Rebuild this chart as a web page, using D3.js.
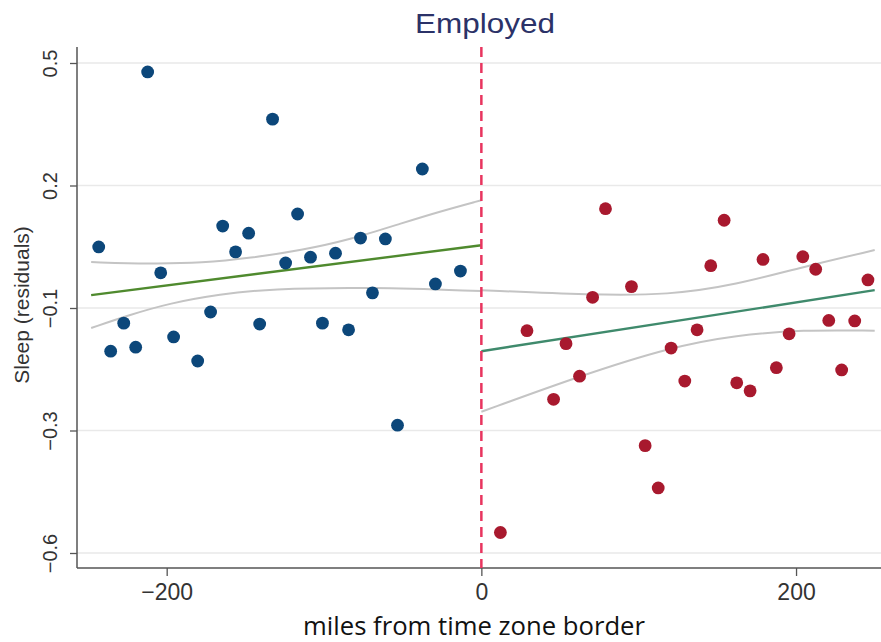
<!DOCTYPE html>
<html>
<head>
<meta charset="utf-8">
<script src="https://d3js.org/d3.v7.min.js"></script>
<style>
  html, body { margin: 0; padding: 0; background: #fff; }
  svg { display: block; }
</style>
</head>
<body>
<div id="chart"></div>
<script>
// values
var leftX = [-243.2, -235.6, -227.3, -219.7, -212.1, -203.8, -195.6, -180.3, -172.1, -164.4, -156.2, -147.9, -140.9, -132.7,
             -124.4, -116.8, -108.6, -101.0, -92.7, -84.4, -76.8, -69.2, -61.0, -53.3, -37.5, -29.2, -13.3];
var leftY = [0.087, -0.147, -0.084, -0.138, 0.480, 0.029, -0.115, -0.169, -0.059, 0.134, 0.076, 0.118, -0.086, 0.374,
             0.051, 0.161, 0.064, -0.084, 0.073, -0.099, 0.107, -0.016, 0.105, -0.313, 0.262, 0.004, 0.033];
var rightX = [12.1, 29.0, 45.9, 53.8, 62.4, 70.7, 78.9, 95.4, 104.1, 112.4, 120.6, 129.3, 137.1, 145.8, 154.3, 162.3,
              170.8, 179.0, 187.5, 195.6, 204.3, 212.5, 220.8, 229.0, 237.3, 245.7];
var rightY = [-0.554, -0.101, -0.255, -0.130, -0.203, -0.026, 0.173, -0.002, -0.359, -0.454, -0.140, -0.214, -0.099, 0.045,
              0.147, -0.218, -0.236, 0.059, -0.184, -0.108, 0.065, 0.037, -0.078, -0.189, -0.079, 0.013];

var leftFit = [[-248, -0.021], [0, 0.091]];
var rightFit = [[0, -0.147], [250, -0.010]];
var leftUpper = [[-248, 0.053], [-211, 0.049], [-177, 0.051], [-147, 0.062], [-114, 0.080], [-84, 0.103], [-50, 0.141], [-27, 0.166], [0, 0.192]];
var leftLower = [[-248, -0.095], [-224, -0.066], [-198, -0.039], [-166, -0.019], [-135, -0.007], [-71, -0.003], [0, -0.012]];
var rightUpper = [[0, -0.010], [70, -0.021], [119, -0.021], [162, 0.002], [204, 0.042], [250, 0.080]];
var rightLower = [[0, -0.283], [62, -0.203], [121, -0.137], [162, -0.111], [204, -0.099], [250, -0.101]];

var yTicks = [0.5, 0.225, -0.05, -0.325, -0.6];
var yTickLabels = ["0.5", "0.2", "\u22120.1", "\u22120.3", "\u22120.6"];
var xTicks = [-200, 0, 200];
var xTickLabels = ["\u2212200", "0", "200"];

var width = 881, height = 642;
var svg = d3.select("#chart").append("svg")
    .attr("width", width)
    .attr("height", height);

var x = d3.scaleLinear().domain([-257, 254]).range([77, 881]);
var y = d3.scaleLinear().domain([-0.6, 0.5]).range([553, 63]);
var plotTop = 47, plotBottom = 568;

// gridlines
svg.append("g").selectAll("line")
    .data(yTicks).enter().append("line")
    .attr("x1", x.range()[0]).attr("x2", x.range()[1])
    .attr("y1", function(d) { return y(d); })
    .attr("y2", function(d) { return y(d); })
    .attr("stroke", "#e9e9e9")
    .attr("stroke-width", 1.6);

// y axis
var yAxis = svg.append("g")
    .attr("transform", "translate(" + x.range()[0] + ",0)")
    .call(d3.axisLeft(y).tickValues(yTicks).tickSize(7).tickFormat(function(d, i) { return yTickLabels[i]; }));
yAxis.select(".domain").remove();
yAxis.selectAll(".tick line").attr("stroke", "#555").attr("stroke-width", 1.3);
yAxis.selectAll(".tick text")
    .attr("x", 0).attr("y", 0).attr("dy", 0)
    .attr("transform", "translate(-20,0) rotate(-90)")
    .attr("text-anchor", "middle")
    .style("font-family", "'Liberation Sans', Arial, sans-serif")
    .style("font-size", "20px")
    .attr("fill", "#333");
svg.append("line")
    .attr("x1", x.range()[0]).attr("x2", x.range()[0])
    .attr("y1", plotTop).attr("y2", plotBottom)
    .attr("stroke", "#555").attr("stroke-width", 1.5);

// x axis
var xAxis = svg.append("g")
    .attr("transform", "translate(0," + plotBottom + ")")
    .call(d3.axisBottom(x).tickValues(xTicks).tickSize(8).tickFormat(function(d, i) { return xTickLabels[i]; }));
xAxis.select(".domain").remove();
xAxis.selectAll(".tick line").attr("stroke", "#555").attr("stroke-width", 1.3);
xAxis.selectAll(".tick text")
    .attr("y", 32).attr("dy", 0)
    .style("font-family", "'Liberation Sans', Arial, sans-serif")
    .style("font-size", "23px")
    .attr("fill", "#333");
svg.append("line")
    .attr("x1", x.range()[0]).attr("x2", width)
    .attr("y1", plotBottom).attr("y2", plotBottom)
    .attr("stroke", "#555").attr("stroke-width", 1.5);

// confidence bands and fits
var line = d3.line()
    .x(function(d) { return x(d[0]); })
    .y(function(d) { return y(d[1]); })
    .curve(d3.curveBasis);

[leftUpper, leftLower, rightUpper, rightLower].forEach(function(band) {
    svg.append("path")
        .attr("d", line(band))
        .attr("fill", "none")
        .attr("stroke", "#c4c4c4")
        .attr("stroke-width", 2);
});
svg.append("path").attr("d", line(leftFit))
    .attr("fill", "none").attr("stroke", "#4f8a2e").attr("stroke-width", 2.4);
svg.append("path").attr("d", line(rightFit))
    .attr("fill", "none").attr("stroke", "#3f8a6c").attr("stroke-width", 2.4);

// border line
svg.append("line")
    .attr("x1", x(0)).attr("x2", x(0))
    .attr("y1", plotTop).attr("y2", plotBottom)
    .attr("stroke", "#e8355f")
    .attr("stroke-width", 2.5)
    .attr("stroke-dasharray", "10,6");

// points
svg.append("g").selectAll("circle")
    .data(d3.zip(leftX, leftY)).enter().append("circle")
    .attr("cx", function(d) { return x(d[0]); })
    .attr("cy", function(d) { return y(d[1]); })
    .attr("r", 6.4)
    .attr("fill", "#0c477a");
svg.append("g").selectAll("circle")
    .data(d3.zip(rightX, rightY)).enter().append("circle")
    .attr("cx", function(d) { return x(d[0]); })
    .attr("cy", function(d) { return y(d[1]); })
    .attr("r", 6.4)
    .attr("fill", "#a8192e");

// titles
svg.append("text")
    .attr("x", 485).attr("y", 33)
    .attr("text-anchor", "middle")
    .attr("textLength", 140)
    .attr("lengthAdjust", "spacingAndGlyphs")
    .style("font-family", "'Liberation Sans', Arial, sans-serif")
    .style("font-size", "28px")
    .attr("fill", "#2b3268")
    .text("Employed");

svg.append("text")
    .attr("transform", "translate(29,305) rotate(-90)")
    .attr("text-anchor", "middle")
    .style("font-family", "'Liberation Sans', Arial, sans-serif")
    .style("font-size", "21px")
    .attr("fill", "#333")
    .text("Sleep (residuals)");

svg.append("text")
    .attr("x", 474).attr("y", 635)
    .attr("text-anchor", "middle")
    .attr("textLength", 342)
    .attr("lengthAdjust", "spacingAndGlyphs")
    .style("font-family", "'Open Sans', sans-serif")
    .style("font-size", "25px")
    .attr("fill", "#111")
    .text("miles from time zone border");
</script>
</body>
</html>
